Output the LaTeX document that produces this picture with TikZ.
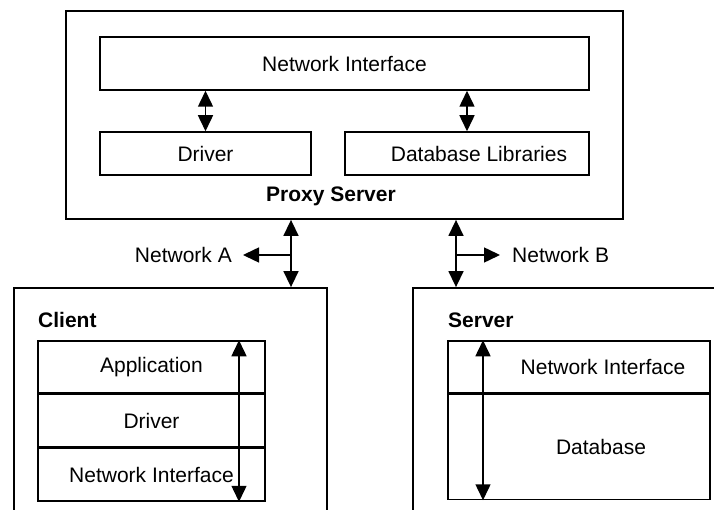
\documentclass[tikz,border=0pt]{standalone}
\usepackage{fontspec}
\setmainfont{Liberation Sans}
\usetikzlibrary{arrows.meta,positioning}

\tikzset{
  box/.style={draw, line width=1.5pt, inner sep=0pt},
  outer/.style={draw, line width=1.8pt, inner sep=0pt},
  arr/.style={line width=1.5pt, -{Triangle[length=16pt,width=15pt]}},
  dblarr/.style={line width=1.5pt, {Triangle[length=16pt,width=15pt]}-{Triangle[length=16pt,width=15pt]}},
}

\begin{document}
\begin{tikzpicture}[x=1pt, y=-1pt, font=\fontsize{21}{25}\selectfont]
  \useasboundingbox (0,0) rectangle (714,510);
  \clip (0,0) rectangle (714,510);

  % proxy server
  \node (proxy) [outer, minimum width=557pt, minimum height=208pt] at (344.5,115) {};
  \begin{scope}[every node/.style={box, minimum height=43pt}]
    \node (pni) [minimum width=489pt, minimum height=53pt] at (344.5,63.5) {Network Interface};
    \node (pdrv) [minimum width=211pt] at (205.5,153.5) {Driver};
    \node (plib) [minimum width=244pt] at (467,153.5) {};
  \end{scope}
  \node (plibtxt) at ([xshift=12pt]plib.center) {Database Libraries};
  \node (plbl) at (331,196) {\bfseries Proxy Server};
  \draw[dblarr] (pni.south -| pdrv.north) -- (pdrv.north);
  \draw[dblarr] (pni.south -| plib.north) -- (plib.north);

  % client and server
  \node (client) [outer, minimum width=313pt, minimum height=252pt] at (170.5,414) {};
  \node (server) [outer, minimum width=367pt, minimum height=252pt] at (596.5,414) {};

  % networks
  \coordinate (netA) at (291,255);
  \coordinate (netB) at (456,255);
  \node (lblA) [left=48pt of netA, inner xsep=11pt] {Network A};
  \node (lblB) [right=44pt of netB, inner xsep=12pt] {Network B};
  \draw[dblarr] (proxy.south -| netA) -- (client.north -| netA);
  \draw[dblarr] (proxy.south -| netB) -- (server.north -| netB);
  \draw[arr] (netA) -- (lblA);
  \draw[arr] (netB) -- (lblB);

  % client stack
  \node (clbl) [anchor=west, inner sep=0pt] at (38,320) {\bfseries Client};
  \begin{scope}[every node/.style={box, minimum width=227pt, minimum height=52pt}]
    \node (capp) at (151.5,367) {Application};
    \node (cdrv) [below=0pt of capp] {Driver};
    \node (cni) [below=0pt of cdrv, minimum height=53pt] {Network Interface};
  \end{scope}
  \draw[dblarr] ([xshift=87.5pt]capp.north) -- ([xshift=87.5pt]cni.south);

  % server stack
  \node (slbl) [anchor=west, inner sep=0pt] at (448,320) {\bfseries Server};
  \begin{scope}[every node/.style={box, minimum width=262pt}]
    \node (sni) [minimum height=52pt] at (579,367) {};
    \node (sdb) [below=0pt of sni, minimum height=105pt] {};
  \end{scope}
  \node (snitxt) at ([xshift=24pt]sni.center) {Network Interface};
  \node (sdbtxt) at ([xshift=22pt]sdb.center) {Database};
  \draw[dblarr] ([xshift=-96pt]sni.north) -- ([xshift=-96pt]sdb.south);
\end{tikzpicture}
\end{document}
